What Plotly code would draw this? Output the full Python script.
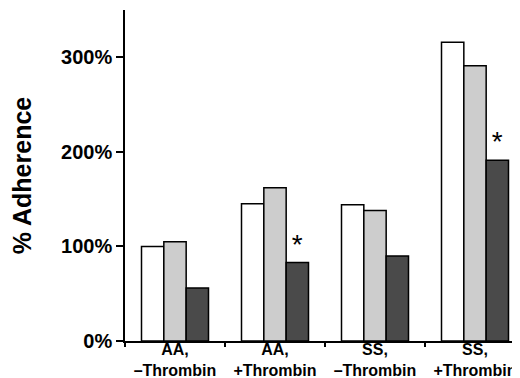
import plotly.graph_objects as go

categories = ["AA,<br>–Thrombin", "AA,<br>+Thrombin", "SS,<br>–Thrombin", "SS,<br>+Thrombin"]
series_white = [100, 145, 144, 316]
series_light = [105, 162, 138, 291]
series_dark = [56, 83, 90, 191]
dark_marks = ["", "*", "", "*"]
y_ticks = [0, 100, 200, 300]
y_tick_labels = ["0%", "100%", "200%", "300%"]

fig = go.Figure()
fig.add_bar(x=categories, y=series_white, marker=dict(color="white", line=dict(color="black", width=1.5)))
fig.add_bar(x=categories, y=series_light, marker=dict(color="#cdcdcd", line=dict(color="black", width=1.5)))
fig.add_bar(x=categories, y=series_dark, marker=dict(color="#4a4a4a", line=dict(color="black", width=1.5)),
            text=dark_marks, textposition="outside", cliponaxis=False,
            textfont=dict(family="Liberation Sans", size=28, color="black"))

fig.update_layout(
    width=520, height=378,
    margin=dict(l=117, r=3, t=2, b=45),
    barmode="group", bargap=0.33, bargroupgap=0,
    showlegend=False,
    plot_bgcolor="white", paper_bgcolor="white",
    font=dict(family="Liberation Sans", color="black"),
)
fig.update_xaxes(
    showline=True, linecolor="black", linewidth=1.5,
    ticks="outside", ticklen=4, tickcolor="black", tickwidth=1.5,
    tickson="boundaries", showgrid=False, automargin=False,
    ticklabelstandoff=-7,
    tickfont=dict(family="Liberation Sans", size=16, weight="bold", color="black"),
)
fig.update_yaxes(
    range=[0, 350], showline=True, linecolor="black", linewidth=1.5,
    ticks="outside", ticklen=7, tickcolor="black", tickwidth=1.5,
    tickmode="array", tickvals=y_ticks, ticktext=y_tick_labels,
    showgrid=False, zeroline=False, automargin=False,
    tickfont=dict(family="Liberation Sans", size=20, weight="bold", color="black"),
    title=dict(text="% Adherence", font=dict(family="Liberation Sans", size=25, weight="bold", color="black"), standoff=28),
)
fig.write_html("out.html")
